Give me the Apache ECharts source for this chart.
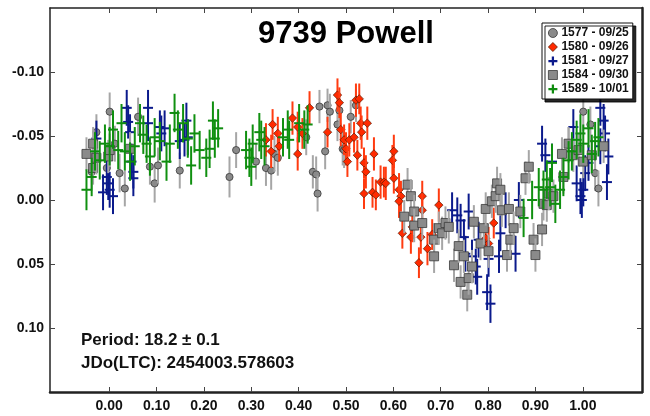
<!DOCTYPE html>
<html>
<head>
<meta charset="utf-8">
<script src="https://cdn.jsdelivr.net/npm/echarts@6/dist/echarts.min.js"></script>
<style>
  html, body { margin: 0; padding: 0; background: #fff; }
  #chart { width: 650px; height: 416px; }
</style>
</head>
<body>
<div id="chart"></div>
<script>
// Lightcurve of asteroid 9739 Powell, folded on an 18.2 h period.
// Each point: [phase, reduced magnitude, 1-sigma error]

const session1577 = [
  [-0.037,-0.022,0.015],[-0.027,-0.053,0.014],[-0.005,-0.025,0.014],[0.001,-0.069,0.015],
  [0.012,-0.044,0.014],[0.022,-0.021,0.015],[0.033,-0.009,0.014],[0.061,-0.065,0.015],
  [0.086,-0.026,0.014],[0.096,-0.013,0.015],[0.103,-0.027,0.014],[0.149,-0.023,0.014],
  [0.254,-0.018,0.016],[0.268,-0.039,0.014],[0.310,-0.030,0.014],[0.331,-0.025,0.014],
  [0.342,-0.023,0.015],[0.349,-0.036,0.014],[0.356,-0.033,0.014],[0.416,-0.049,0.014],
  [0.430,-0.022,0.013],[0.437,-0.020,0.014],[0.440,-0.005,0.014],[0.444,-0.073,0.013],
  [0.456,-0.038,0.014],[0.461,-0.074,0.013],[0.466,-0.069,0.014],[0.482,-0.059,0.013],
  [0.486,-0.070,0.014],[0.493,-0.040,0.013],[0.496,-0.039,0.014],[0.510,-0.065,0.013],
  [0.521,-0.074,0.013],[0.970,-0.043,0.014],[1.001,-0.069,0.015],[1.016,-0.059,0.014],
  [1.026,-0.021,0.014],[1.033,-0.009,0.014]
];

const session1580 = [
  [0.331,-0.047,0.013],[0.342,-0.038,0.013],[0.345,-0.059,0.012],[0.356,-0.052,0.013],
  [0.359,-0.042,0.012],[0.387,-0.064,0.013],[0.398,-0.057,0.012],[0.398,-0.036,0.013],
  [0.408,-0.052,0.012],[0.423,-0.072,0.013],[0.461,-0.053,0.012],[0.482,-0.082,0.013],
  [0.486,-0.076,0.012],[0.489,-0.055,0.013],[0.496,-0.047,0.012],[0.500,-0.040,0.013],
  [0.503,-0.030,0.012],[0.507,-0.047,0.013],[0.517,-0.049,0.012],[0.521,-0.078,0.013],
  [0.528,-0.079,0.012],[0.531,-0.060,0.013],[0.524,-0.035,0.012],[0.533,-0.053,0.013],
  [0.538,-0.029,0.012],[0.545,-0.060,0.013],[0.538,-0.005,0.012],[0.542,-0.022,0.013],
  [0.556,-0.006,0.012],[0.559,-0.036,0.013],[0.563,-0.004,0.012],[0.573,-0.014,0.013],
  [0.580,-0.014,0.012],[0.584,-0.013,0.013],[0.598,-0.031,0.012],[0.601,-0.038,0.013],
  [0.601,-0.017,0.012],[0.612,-0.008,0.013],[0.616,-0.003,0.012],[0.612,0.001,0.013],
  [0.619,0.026,0.012],[0.637,0.029,0.013],[0.640,0.021,0.012],[0.658,0.029,0.013],
  [0.661,-0.003,0.012],[0.661,0.008,0.013],[0.654,0.049,0.012],[0.672,0.038,0.013],
  [0.682,0.027,0.012],[0.696,0.004,0.013],[0.795,0.030,0.012],[0.801,0.034,0.013],
  [0.812,0.018,0.012]
];

const session1581 = [
  [-0.027,-0.048,0.014],[-0.013,-0.006,0.014],[-0.005,-0.018,0.014],[-0.002,-0.013,0.013],
  [0.001,-0.008,0.014],[0.008,-0.003,0.014],[0.037,-0.072,0.014],[0.040,-0.061,0.013],
  [0.044,-0.053,0.014],[0.047,-0.030,0.014],[0.051,-0.017,0.014],[0.051,-0.022,0.013],
  [0.082,-0.072,0.014],[0.082,-0.060,0.014],[0.107,-0.057,0.013],[0.110,-0.052,0.014],
  [0.117,-0.056,0.014],[0.149,-0.046,0.014],[0.159,-0.047,0.013],[0.163,-0.062,0.014],
  [0.166,-0.049,0.014],
  [0.724,0.008,0.014],[0.735,0.012,0.014],[0.742,0.016,0.013],[0.749,0.029,0.014],
  [0.759,0.009,0.014],[0.752,0.042,0.014],[0.766,0.044,0.013],[0.774,0.052,0.014],
  [0.777,0.060,0.014],[0.780,0.031,0.014],[0.798,0.072,0.014],[0.805,0.081,0.015],
  [0.801,0.046,0.014],[0.823,0.044,0.013],[0.826,0.026,0.014],[0.837,0.008,0.014],
  [0.858,0.042,0.014],[0.865,0.000,0.014],[0.914,-0.044,0.014],[0.921,-0.035,0.013],
  [0.935,-0.030,0.014],[0.980,-0.057,0.014],[0.987,-0.013,0.014],[0.995,-0.003,0.014],
  [0.998,0.000,0.014],[1.001,-0.008,0.013],[1.005,-0.021,0.014],[1.012,-0.029,0.014],
  [1.037,-0.072,0.014],[1.037,-0.042,0.014],[1.044,-0.062,0.013],[1.047,-0.052,0.014],
  [1.051,-0.014,0.014],[1.054,-0.034,0.014]
];

const session1584 = [
  [-0.048,-0.036,0.013],[-0.034,-0.044,0.013],[-0.034,-0.025,0.013],[-0.027,-0.033,0.013],
  [-0.002,-0.034,0.013],[0.001,-0.039,0.013],[0.044,-0.040,0.013],
  [0.623,0.013,0.013],[0.630,-0.012,0.013],[0.637,-0.003,0.013],[0.644,0.009,0.013],
  [0.644,0.020,0.013],[0.661,0.018,0.013],[0.686,0.031,0.013],[0.686,0.044,0.013],
  [0.696,0.022,0.013],[0.703,0.026,0.013],[0.710,0.018,0.013],[0.717,0.021,0.013],
  [0.728,0.051,0.013],[0.738,0.036,0.013],[0.742,0.064,0.013],[0.749,0.044,0.013],
  [0.756,0.074,0.013],[0.759,0.061,0.013],[0.766,0.052,0.013],[0.770,0.017,0.013],
  [0.784,0.034,0.013],[0.791,0.022,0.013],[0.795,0.007,0.013],[0.801,0.040,0.013],
  [0.808,0.001,0.013],[0.816,-0.003,0.013],[0.819,-0.013,0.013],[0.826,-0.008,0.013],
  [0.829,0.008,0.013],[0.840,0.043,0.013],[0.844,0.007,0.013],[0.847,0.031,0.013],
  [0.854,0.022,0.013],[0.868,0.009,0.013],[0.879,-0.017,0.013],[0.886,-0.026,0.013],
  [0.896,0.031,0.013],[0.900,0.043,0.013],[0.914,0.023,0.013],[0.917,0.003,0.013],
  [0.924,0.004,0.013],[0.928,-0.005,0.013],[0.938,-0.003,0.013],[0.956,-0.036,0.013],
  [0.959,-0.018,0.013],[0.970,-0.044,0.013],[0.980,-0.035,0.013],[0.991,-0.039,0.013],
  [1.001,-0.030,0.013],[1.019,-0.035,0.013],[1.044,-0.042,0.013]
];

const session1589 = [
  [-0.048,-0.008,0.016],[-0.037,-0.018,0.015],[-0.030,-0.038,0.015],[-0.020,-0.031,0.015],
  [-0.009,-0.044,0.015],[0.001,-0.042,0.015],[0.008,-0.055,0.015],[0.019,-0.039,0.015],
  [0.026,-0.060,0.015],[0.033,-0.038,0.015],[0.044,-0.030,0.015],[0.054,-0.042,0.015],
  [0.065,-0.060,0.015],[0.072,-0.051,0.015],[0.079,-0.044,0.015],[0.086,-0.034,0.015],
  [0.096,-0.049,0.015],[0.107,-0.046,0.015],[0.121,-0.030,0.015],[0.128,-0.044,0.015],
  [0.138,-0.068,0.015],[0.145,-0.055,0.015],[0.156,-0.060,0.015],[0.166,-0.048,0.015],
  [0.173,-0.027,0.015],[0.180,-0.052,0.015],[0.191,-0.039,0.015],[0.205,-0.033,0.015],
  [0.212,-0.040,0.015],[0.219,-0.062,0.015],[0.223,-0.048,0.015],[0.230,-0.056,0.015],
  [0.289,-0.039,0.015],[0.296,-0.033,0.015],[0.300,-0.026,0.015],[0.303,-0.044,0.015],
  [0.317,-0.053,0.015],[0.321,-0.047,0.015],[0.328,-0.042,0.015],[0.367,-0.049,0.015],
  [0.377,-0.055,0.015],[0.380,-0.047,0.015],[0.401,-0.060,0.015],[0.412,-0.055,0.015],
  [0.419,-0.059,0.015],
  [0.875,0.014,0.015],[0.893,0.000,0.015],[0.907,-0.010,0.015],[0.917,-0.008,0.015],
  [0.924,-0.016,0.015],[0.931,-0.010,0.015],[0.935,-0.029,0.015],[0.942,0.003,0.015],
  [0.952,-0.008,0.015],[0.959,-0.018,0.015],[0.970,-0.031,0.015],[0.977,-0.038,0.015],
  [0.987,-0.047,0.015],[0.995,-0.052,0.015],[1.001,-0.044,0.015],[1.012,-0.056,0.015],
  [1.019,-0.036,0.015],[1.026,-0.046,0.015],[1.033,-0.049,0.015]
];

const sessionNames = ['1577 - 09/25', '1580 - 09/26', '1581 - 09/27', '1584 - 09/30', '1589 - 10/01'];
const phaseTicks = [0, 0.1, 0.2, 0.3, 0.4, 0.5, 0.6, 0.7, 0.8, 0.9, 1.0];
const magTicks = [-0.10, -0.05, 0, 0.05, 0.10];
const periodText = 'Period: 18.2 \u00b1 0.1';
const epochText = 'JDo(LTC): 2454003.578603';

const FONT = '"Liberation Sans", Arial, sans-serif';
const PLUS_ICON = 'path://M3,0 h2 v3 h3 v2 h-3 v3 h-2 v-3 h-3 v-2 h3 z';

const styles = [
  { marker: 'circle',  fill: '#8a8a8a', stroke: '#3a3a3a', bar: '#a6a6a6', icon: 'circle' },
  { marker: 'diamond', fill: '#ff2a00', stroke: '#5a1a00', bar: '#ff3b10', icon: 'diamond' },
  { marker: 'plus',    fill: '#0b1a8c', stroke: '#0b1a8c', bar: '#0b1a8c', icon: PLUS_ICON },
  { marker: 'square',  fill: '#8a8a8a', stroke: '#3a3a3a', bar: '#a6a6a6', icon: 'rect' },
  { marker: 'plus',    fill: '#0f8c0f', stroke: '#0f8c0f', bar: '#109010', icon: PLUS_ICON }
];
const sessions = [session1577, session1580, session1581, session1584, session1589];

function makeRenderer(st) {
  return function (params, api) {
    const x = api.value(0), y = api.value(1), e = api.value(2);
    const c = api.coord([x, y]);
    const top = api.coord([x, y - e]);
    const bot = api.coord([x, y + e]);
    const children = [{
      type: 'line',
      shape: { x1: c[0], y1: top[1], x2: c[0], y2: bot[1] },
      style: { stroke: st.bar, lineWidth: 2 }
    }];
    if (st.marker === 'plus') {
      children.push({
        type: 'line',
        shape: { x1: c[0] - 5, y1: c[1], x2: c[0] + 5, y2: c[1] },
        style: { stroke: st.fill, lineWidth: 2 }
      });
    } else if (st.marker === 'circle') {
      children.push({
        type: 'circle', shape: { cx: c[0], cy: c[1], r: 3.6 },
        style: { fill: st.fill, stroke: st.stroke, lineWidth: 0.8 }
      });
    } else if (st.marker === 'diamond') {
      const r = 4.2;
      children.push({
        type: 'polygon',
        shape: { points: [[c[0], c[1] - r], [c[0] + r, c[1]], [c[0], c[1] + r], [c[0] - r, c[1]]] },
        style: { fill: st.fill, stroke: st.stroke, lineWidth: 0.7 }
      });
    } else {
      children.push({
        type: 'rect', shape: { x: c[0] - 4.5, y: c[1] - 4.5, width: 9, height: 9 },
        style: { fill: st.fill, stroke: st.stroke, lineWidth: 0.8 }
      });
    }
    return { type: 'group', children: children };
  };
}

const series = sessions.map(function (data, i) {
  return {
    name: sessionNames[i],
    type: 'custom',
    xAxisIndex: 0,
    yAxisIndex: 0,
    data: data,
    renderItem: makeRenderer(styles[i]),
    itemStyle: { color: styles[i].fill },
    animation: false,
    clip: true
  };
});

const tickStyle = { show: true, inside: true, length: 5, lineStyle: { color: '#444', width: 1 } };

const chart = echarts.init(document.getElementById('chart'), null, { renderer: 'canvas' });
chart.setOption({
  animation: false,
  backgroundColor: '#ffffff',
  textStyle: { fontFamily: FONT },
  grid: { left: 50, right: 8, top: 8, bottom: 24 },
  xAxis: [{
    type: 'value', position: 'bottom', min: -0.125, max: 1.125,
    splitLine: { show: false },
    axisLine: { onZero: false, lineStyle: { color: '#222', width: 2.5 } },
    axisTick: Object.assign({}, tickStyle, { customValues: phaseTicks }),
    axisLabel: {
      customValues: phaseTicks, margin: 7,
      formatter: function (v) { return v.toFixed(2); },
      color: '#111', fontFamily: FONT, fontWeight: 'bold', fontSize: 14
    }
  }, {
    type: 'value', position: 'top', min: -0.125, max: 1.125,
    splitLine: { show: false },
    axisLine: { onZero: false, lineStyle: { color: '#222', width: 1.5 } },
    axisTick: Object.assign({}, tickStyle, { customValues: phaseTicks }),
    axisLabel: { show: false }
  }],
  yAxis: [{
    type: 'value', position: 'left', inverse: true, min: -0.15, max: 0.15,
    splitLine: { show: false },
    axisLine: { show: true, onZero: false, lineStyle: { color: '#222', width: 1.5 } },
    axisTick: Object.assign({}, tickStyle, { customValues: magTicks }),
    axisLabel: {
      customValues: magTicks, margin: 6,
      formatter: function (v) { return v.toFixed(2); },
      color: '#111', fontFamily: FONT, fontWeight: 'bold', fontSize: 14
    }
  }, {
    type: 'value', position: 'right', inverse: true, min: -0.15, max: 0.15,
    splitLine: { show: false },
    axisLine: { show: true, onZero: false, lineStyle: { color: '#222', width: 2.5 } },
    axisTick: Object.assign({}, tickStyle, { customValues: magTicks }),
    axisLabel: { show: false }
  }],
  legend: {
    orient: 'vertical',
    left: 542, top: 23,
    padding: [3, 4, 3, 6],
    itemGap: 0,
    itemWidth: 9, itemHeight: 9,
    backgroundColor: '#fff',
    borderColor: '#111', borderWidth: 1,
    shadowColor: 'rgba(0,0,0,0.85)', shadowBlur: 0, shadowOffsetX: 3, shadowOffsetY: 3,
    textStyle: { fontFamily: FONT, fontWeight: 'bold', fontSize: 12, color: '#111', lineHeight: 14, padding: [0, 0, 0, -1] },
    data: sessionNames.map(function (n, i) {
      return {
        name: n, icon: styles[i].icon,
        itemStyle: {
          color: styles[i].fill,
          borderColor: styles[i].marker === 'plus' ? styles[i].fill : styles[i].stroke,
          borderWidth: styles[i].marker === 'plus' ? 0 : 0.8
        }
      };
    })
  },
  graphic: [{
    type: 'text', x: 346, y: 34,
    style: {
      text: '9739 Powell', fill: '#000', font: 'bold 31px ' + FONT,
      textAlign: 'center', textVerticalAlign: 'middle'
    }
  }, {
    type: 'text', x: 81, y: 340,
    style: { text: periodText, fill: '#111', font: 'bold 17px ' + FONT, textVerticalAlign: 'middle' }
  }, {
    type: 'text', x: 81, y: 363,
    style: { text: epochText, fill: '#111', font: 'bold 17px ' + FONT, textVerticalAlign: 'middle' }
  }],
  series: series
});
</script>
</body>
</html>
